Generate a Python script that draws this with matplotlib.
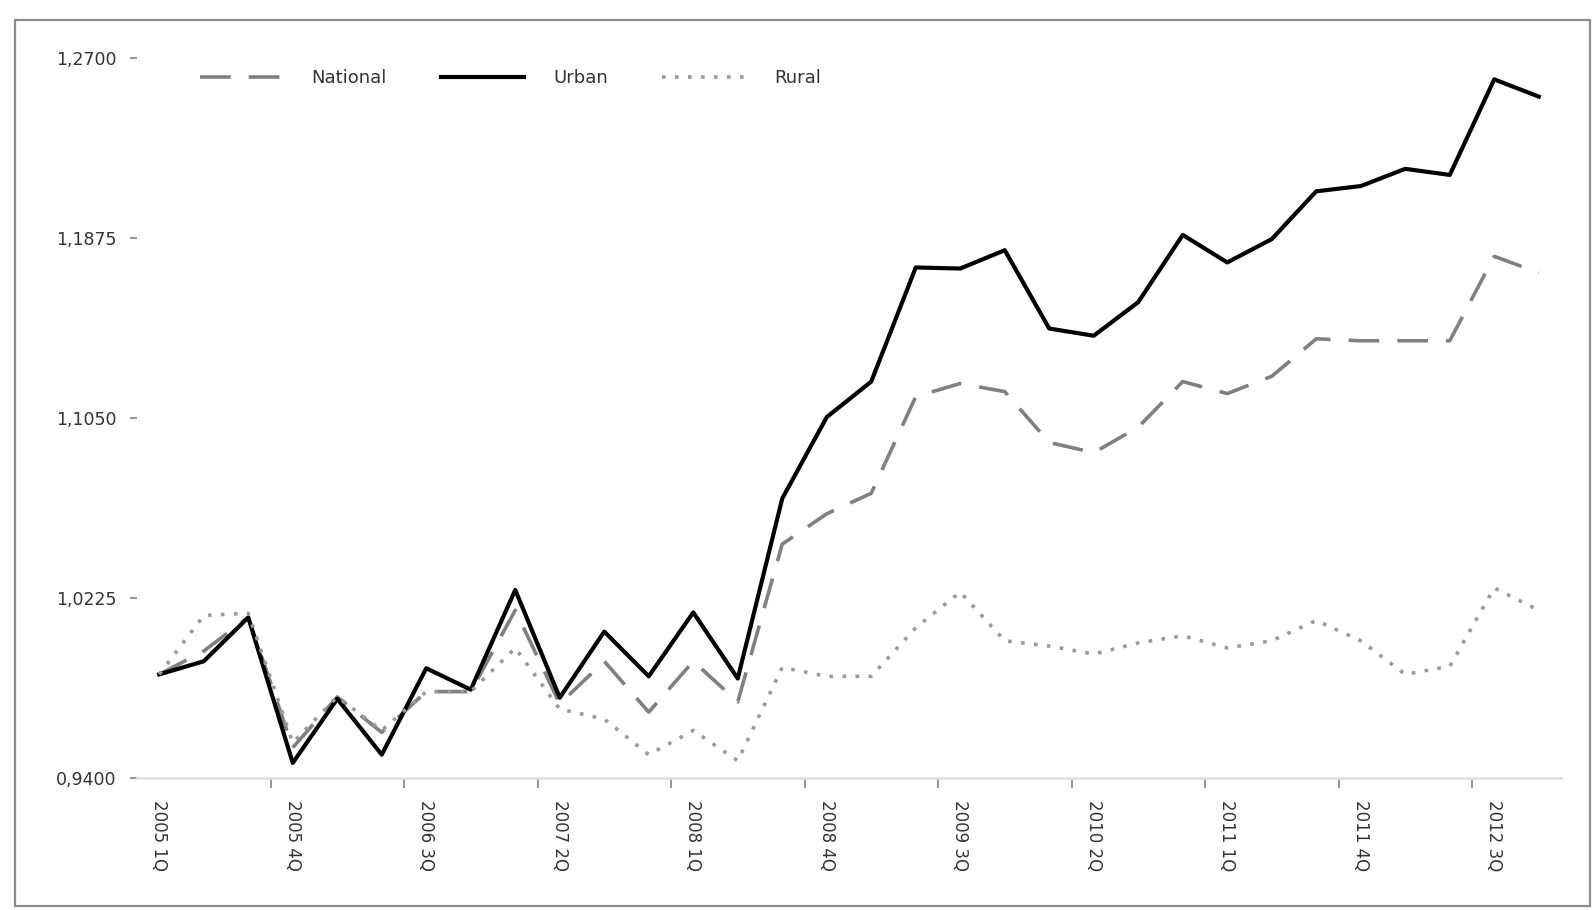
import matplotlib
matplotlib.use("Agg")
import matplotlib.pyplot as plt
from matplotlib.patches import Rectangle
import numpy as np

quarters = [f"{y} {q}Q" for y in range(2005, 2013) for q in range(1, 5)]

national = [0.9875, 0.9982, 1.0136, 0.9539, 0.9772, 0.9609, 0.9796, 0.9796,
            1.0169, 0.9740, 0.9935, 0.9702, 0.9935, 0.9749, 1.0472, 1.0611,
            1.0705, 1.1148, 1.1208, 1.1171, 1.0938, 1.0891, 1.1008, 1.1217,
            1.1162, 1.1241, 1.1413, 1.1404, 1.1404, 1.1404, 1.1791, 1.1716]
urban = [0.9875, 0.9935, 1.0136, 0.9469, 0.9763, 0.9507, 0.9903, 0.9805,
         1.0262, 0.9768, 1.0071, 0.9866, 1.0159, 0.9856, 1.0681, 1.1054,
         1.1217, 1.1740, 1.1735, 1.1819, 1.1460, 1.1427, 1.1581, 1.1889,
         1.1763, 1.1870, 1.2089, 1.2113, 1.2192, 1.2164, 1.2602, 1.2523]
rural = [0.9875, 1.0145, 1.0155, 0.9562, 0.9772, 0.9618, 0.9796, 0.9796,
         0.9996, 0.9716, 0.9670, 0.9507, 0.9618, 0.9479, 0.9907, 0.9866,
         0.9866, 1.0089, 1.0252, 1.0029, 1.0005, 0.9968, 1.0019, 1.0052,
         0.9996, 1.0029, 1.0122, 1.0029, 0.9875, 0.9912, 1.0271, 1.0169]

y_ticks = [0.9400, 1.0225, 1.1050, 1.1875, 1.2700]

fig = plt.figure(figsize=(15.95, 9.10), dpi=100)
fig.patch.set_facecolor("white")
fig.patches.append(Rectangle((15 / 1595, 1 - 906 / 910), 1575 / 1595, 886 / 910,
                             transform=fig.transFigure, fill=False,
                             edgecolor="#8c8c8c", linewidth=1.6))

ax = fig.add_axes([137 / 1595, 1 - 778 / 910, 1424 / 1595, 720 / 910])
x = np.arange(len(quarters))

ax.plot(x, national, color="#808080", lw=2.6, dashes=(8.5, 5), label="National")
ax.plot(x, urban, color="black", lw=3.0, label="Urban")
ax.plot(x, rural, color="#9a9a9a", lw=2.6, dashes=(1.0, 2.6), label="Rural")

ax.set_xlim(-0.5, len(quarters) - 0.5)
ax.set_ylim(y_ticks[0], y_ticks[-1])

ax.set_yticks(y_ticks)
ax.set_yticklabels([f"{v:.4f}".replace(".", ",") for v in y_ticks], fontsize=12.5,
                   color="#333333")
ax.tick_params(axis="y", direction="out", length=5, width=1.5, color="#999999", pad=10)

# major ticks at category boundaries, labels at every third category
ax.set_xticks(np.arange(2.5, len(quarters) - 1, 3))
ax.set_xticklabels([])
ax.set_xticks(np.arange(0, len(quarters), 3), minor=True)
ax.set_xticklabels([quarters[i] for i in range(0, len(quarters), 3)], minor=True,
                   rotation=-90, fontsize=12, color="#333333")
ax.tick_params(axis="x", which="major", direction="out", length=7, width=1.5,
               color="#999999")
ax.tick_params(axis="x", which="minor", length=0, pad=16)

for s in ["top", "right", "left"]:
    ax.spines[s].set_visible(False)
ax.spines["bottom"].set_color("#e0e0e0")
ax.spines["bottom"].set_linewidth(1.8)

leg = ax.legend(loc="center left", bbox_to_anchor=(0.044, 0.972), ncol=3,
                frameon=False, fontsize=13, handlelength=4.6, handletextpad=1.6,
                columnspacing=3.0, borderpad=0, borderaxespad=0)
for t in leg.get_texts():
    t.set_color("#333333")

fig.savefig("out.png", dpi=100)
